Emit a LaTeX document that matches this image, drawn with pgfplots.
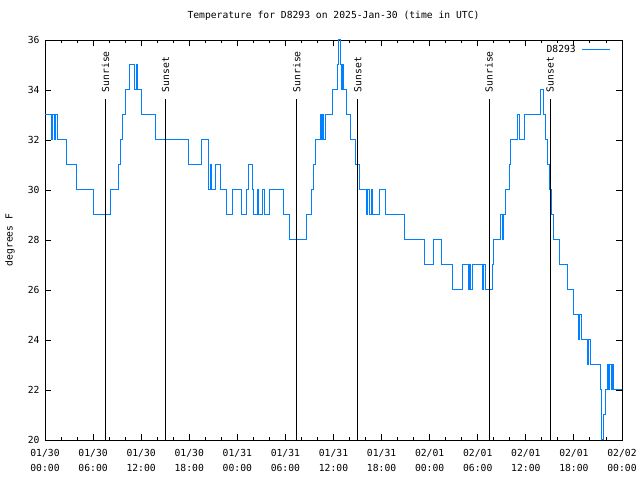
\documentclass[border=0pt]{standalone}
\usepackage{fontspec}
\setmainfont{DejaVu Sans Mono}
\usepackage{pgfplots}
\pgfplotsset{compat=1.18}
\definecolor{lineblue}{RGB}{0,128,255}
\begin{document}
\fontsize{9.7bp}{11.6bp}\selectfont
\begin{tikzpicture}
\begin{axis}[
  at={(0,0)}, anchor=south west,
  scale only axis, width=577bp, height=400bp,
  xmin=0, xmax=72, ymin=20, ymax=36,
  xtick={0,6,...,72},
  xticklabels={01/30\\00:00,01/30\\06:00,01/30\\12:00,01/30\\18:00,01/31\\00:00,01/31\\06:00,01/31\\12:00,01/31\\18:00,02/01\\00:00,02/01\\06:00,02/01\\12:00,02/01\\18:00,02/02\\00:00},
  minor x tick num=2,
  ytick={20,22,...,36},
  xtick pos=both, ytick pos=both,
  xticklabel pos=lower, yticklabel pos=left,
  tick align=inside,
  major tick length=6bp, minor tick length=3bp,
  tick style={black, line width=0.9bp},
  axis line style={black, line width=0.9bp},
  /pgf/number format/assume math mode=true,
  ticklabel style={font=\fontsize{9.7bp}{15bp}\selectfont},
  xticklabel style={align=center, yshift=-6bp},
  yticklabel style={xshift=-2bp},
  title={Temperature for D8293 on 2025-Jan-30 (time in UTC)},
  title style={at={(axis description cs:0.5,1)}, anchor=base, yshift=15.7bp, inner sep=0pt},
  ylabel={degrees F},
  ylabel style={at={(axis description cs:-0.0607,0.5)}, anchor=center},
  legend style={at={(axis description cs:1,1)}, anchor=north east, draw=none, fill=none, xshift=-8bp, yshift=-1bp, column sep=4bp, font=\fontsize{9.7bp}{11.6bp}\selectfont},
  legend plot pos=right,
  legend image code/.code={\draw[#1, sharp plot] (0bp,0bp) -- (28bp,0bp);},
]
\addplot[const plot, lineblue, line width=1bp] coordinates {
(0,33) (0.75,32) (0.95,33) (1.15,32) (1.3,33) (1.5,32)
(2.65,31) (3.9,30) (6.1,29) (8.2,30) (9.2,31) (9.45,32) (9.7,33) (10.0,34)
(10.6,35) (11.2,34) (11.4,35) (11.55,34) (12.0,33) (13.85,32)
(17.95,31) (19.58,32) (20.35,30) (20.6,31) (20.8,30) (21.3,31) (21.85,30) (22.65,29)
(23.42,30) (24.5,29) (25.1,30) (25.35,31) (25.9,30) (26.05,29) (26.55,30) (26.7,29)
(27.15,30) (27.35,29) (28.0,30) (29.7,29) (30.5,28) (32.65,29) (33.2,30) (33.5,31)
(33.75,32) (34.35,33) (34.5,32) (34.65,33) (34.8,32) (35.0,33) (35.9,34) (36.45,35)
(36.62,36) (36.82,35) (36.95,34) (37.1,35) (37.25,34) (37.65,33) (38.15,32) (38.8,31)
(39.3,30) (40.1,29) (40.3,30) (40.5,29) (40.7,30) (40.85,29) (41.8,30) (42.45,29)
(44.85,28) (47.4,27) (48.45,28) (49.45,27) (50.85,26) (52.1,27) (52.8,26) (52.95,27)
(53.1,26) (53.3,27) (54.6,26) (54.75,27) (54.95,26) (55.85,27) (56.0,28) (56.85,29)
(57.05,28) (57.2,29) (57.5,30) (57.9,31) (58.1,32) (59.0,33) (59.15,32) (59.8,33)
(61.85,34) (62.2,33) (62.5,32) (62.7,31) (62.9,30) (63.2,29) (63.5,28) (64.2,27)
(65.25,26) (65.9,25) (66.6,24) (66.75,25) (66.95,24) (67.65,23) (67.85,24) (68.05,23)
(69.35,22) (69.45,20) (69.7,21) (69.9,22) (70.15,23) (70.35,22) (70.5,23) (70.7,22)
(70.85,23) (71.0,22) (72,22)
};
\addlegendentry{D8293}
\addplot[black, line width=0.9bp, forget plot] coordinates {(7.55,20) (7.55,33.64)} node[pos=1, rotate=90, anchor=west, inner sep=6.5bp] {Sunrise};
\addplot[black, line width=0.9bp, forget plot] coordinates {(15.04,20) (15.04,33.64)} node[pos=1, rotate=90, anchor=west, inner sep=6.5bp] {Sunset};
\addplot[black, line width=0.9bp, forget plot] coordinates {(31.4,20) (31.4,33.64)} node[pos=1, rotate=90, anchor=west, inner sep=6.5bp] {Sunrise};
\addplot[black, line width=0.9bp, forget plot] coordinates {(39.04,20) (39.04,33.64)} node[pos=1, rotate=90, anchor=west, inner sep=6.5bp] {Sunset};
\addplot[black, line width=0.9bp, forget plot] coordinates {(55.4,20) (55.4,33.64)} node[pos=1, rotate=90, anchor=west, inner sep=6.5bp] {Sunrise};
\addplot[black, line width=0.9bp, forget plot] coordinates {(63.04,20) (63.04,33.64)} node[pos=1, rotate=90, anchor=west, inner sep=6.5bp] {Sunset};
\end{axis}
\pgfresetboundingbox
\path[use as bounding box] (-45bp,-40bp) rectangle (595bp,440bp);
\end{tikzpicture}
\end{document}
